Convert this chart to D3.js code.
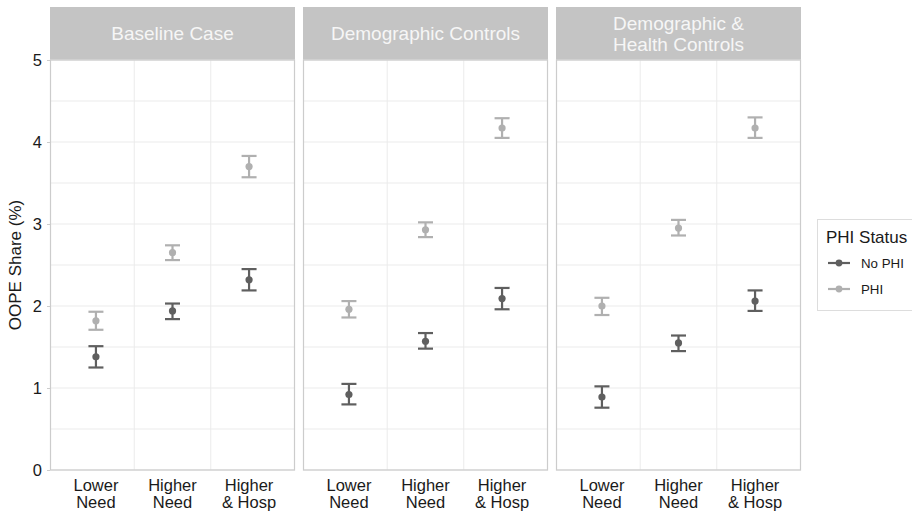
<!DOCTYPE html>
<html>
<head>
<meta charset="utf-8">
<script src="https://cdn.jsdelivr.net/npm/d3@7"></script>
<style>
  body { margin: 0; background: #fff; }
  svg { font-family: "Liberation Sans", Arial, Helvetica, sans-serif; }
</style>
</head>
<body>
<svg id="chart" width="912" height="512"></svg>
<script>
// Model specifications (facets), need categories and series
const models = ["Baseline Case", "Demographic Controls", "Demographic &\nHealth Controls"];
const categories = ["Lower\nNeed", "Higher\nNeed", "Higher\n& Hosp"];
const seriesNames = ["No PHI", "PHI"];
const seriesColors = ["#5f5f5f", "#b0b0b0"];
const yTicks = [0, 1, 2, 3, 4, 5];

// Estimates and 95% CI bounds, one row per model, one column per category
const noPhiEst = [[1.38, 1.94, 2.32], [0.92, 1.57, 2.09], [0.89, 1.55, 2.06]];
const noPhiLow = [[1.25, 1.84, 2.19], [0.80, 1.48, 1.96], [0.76, 1.45, 1.94]];
const noPhiHigh = [[1.51, 2.03, 2.45], [1.05, 1.67, 2.22], [1.02, 1.64, 2.19]];
const phiEst = [[1.82, 2.65, 3.70], [1.96, 2.93, 4.17], [2.00, 2.95, 4.17]];
const phiLow = [[1.71, 2.56, 3.57], [1.86, 2.84, 4.05], [1.89, 2.86, 4.05]];
const phiHigh = [[1.93, 2.74, 3.83], [2.06, 3.02, 4.29], [2.10, 3.05, 4.30]];

const rows = [];
models.forEach((m, mi) => {
  categories.forEach((c, ci) => {
    rows.push({model: m, cat: c, series: "No PHI", est: noPhiEst[mi][ci], lo: noPhiLow[mi][ci], hi: noPhiHigh[mi][ci]});
    rows.push({model: m, cat: c, series: "PHI", est: phiEst[mi][ci], lo: phiLow[mi][ci], hi: phiHigh[mi][ci]});
  });
});

const svg = d3.select("#chart");
const panelTop = 60, panelBottom = 470, stripTop = 7;

const fx = d3.scaleBand().domain(models).range([50, 801]).paddingInner(0.0316);
const x = d3.scalePoint().domain(categories).range([0, fx.bandwidth()]).padding(0.6);
const y = d3.scaleLinear().domain([0, 5]).range([panelBottom, panelTop]);
const color = d3.scaleOrdinal().domain(seriesNames).range(seriesColors);
const gridY = d3.range(0, 5.01, 0.5);

models.forEach(m => {
  const g = svg.append("g").attr("transform", `translate(${fx(m)},0)`);
  const w = fx.bandwidth();

  // Strip
  g.append("rect").attr("x", 0).attr("y", stripTop).attr("width", w).attr("height", panelTop - stripTop)
    .attr("fill", "#c4c4c4");
  const lines = m.split("\n");
  const stripMid = (stripTop + panelTop) / 2;
  lines.forEach((ln, i) => {
    g.append("text").attr("x", w / 2)
      .attr("y", stripMid + (i - (lines.length - 1) / 2) * 21)
      .attr("dy", "0.36em").attr("text-anchor", "middle")
      .attr("font-size", 19).attr("fill", "#f6f6f6").text(ln);
  });

  // Grid
  g.selectAll(".gy").data(gridY).join("line")
    .attr("x1", 0).attr("x2", w).attr("y1", d => y(d)).attr("y2", d => y(d))
    .attr("stroke", "#ebebeb").attr("stroke-width", 1);
  const step = x.step();
  g.selectAll(".gx").data(categories.slice(0, -1)).join("line")
    .attr("x1", d => x(d) + step / 2).attr("x2", d => x(d) + step / 2)
    .attr("y1", panelTop).attr("y2", panelBottom)
    .attr("stroke", "#ebebeb").attr("stroke-width", 1);

  // Panel border
  g.append("rect").attr("x", 0.5).attr("y", panelTop).attr("width", w - 1).attr("height", panelBottom - panelTop)
    .attr("fill", "none").attr("stroke", "#cccccc").attr("stroke-width", 1.2);

  // Error bars and points
  const data = rows.filter(r => r.model === m);
  const capHalf = 7.5;
  const eb = g.selectAll(".eb").data(data).join("g")
    .attr("stroke", d => color(d.series)).attr("stroke-width", 2.2);
  eb.append("line").attr("x1", d => x(d.cat)).attr("x2", d => x(d.cat))
    .attr("y1", d => y(d.lo)).attr("y2", d => y(d.hi));
  eb.append("line").attr("x1", d => x(d.cat) - capHalf).attr("x2", d => x(d.cat) + capHalf)
    .attr("y1", d => y(d.lo)).attr("y2", d => y(d.lo));
  eb.append("line").attr("x1", d => x(d.cat) - capHalf).attr("x2", d => x(d.cat) + capHalf)
    .attr("y1", d => y(d.hi)).attr("y2", d => y(d.hi));
  g.selectAll(".pt").data(data).join("circle")
    .attr("cx", d => x(d.cat)).attr("cy", d => y(d.est)).attr("r", 3.6)
    .attr("fill", d => color(d.series));

  // X labels
  categories.forEach(c => {
    c.split("\n").forEach((ln, i) => {
      g.append("text").attr("x", x(c)).attr("y", 491 + i * 17)
        .attr("text-anchor", "middle").attr("font-size", 16.5).attr("fill", "#1a1a1a").text(ln);
    });
  });
});

// Y axis on the first panel
const yAxis = svg.append("g").attr("transform", `translate(${fx(models[0])},0)`)
  .call(d3.axisLeft(y).tickValues(yTicks).tickFormat(d3.format("d")).tickSize(3).tickPadding(5));
yAxis.select(".domain").remove();
yAxis.selectAll(".tick line").attr("stroke", "#cccccc");
yAxis.selectAll(".tick text").attr("font-size", 16.5).attr("fill", "#1a1a1a")
  .attr("font-family", "Liberation Sans, Arial, sans-serif");

svg.append("text").attr("transform", `translate(15,${(panelTop + panelBottom) / 2}) rotate(-90)`)
  .attr("text-anchor", "middle").attr("dy", "0.35em").attr("font-size", 17).attr("fill", "#1a1a1a")
  .text("OOPE Share (%)");

// Legend
const lg = svg.append("g").attr("transform", "translate(817,219)");
lg.append("rect").attr("x", 0.5).attr("y", 0.5).attr("width", 100).attr("height", 91)
  .attr("fill", "#fff").attr("stroke", "#dddddd").attr("stroke-width", 1);
lg.append("text").attr("x", 9).attr("y", 24).attr("font-size", 17).attr("fill", "#1a1a1a").text("PHI Status");
seriesNames.forEach((s, i) => {
  const yy = 44 + i * 26;
  lg.append("line").attr("x1", 11).attr("x2", 33).attr("y1", yy).attr("y2", yy)
    .attr("stroke", color(s)).attr("stroke-width", 2.2);
  lg.append("circle").attr("cx", 22).attr("cy", yy).attr("r", 3.4).attr("fill", color(s));
  lg.append("text").attr("x", 44).attr("y", yy).attr("dy", "0.35em").attr("font-size", 13.3)
    .attr("fill", "#1a1a1a").text(s);
});
</script>
</body>
</html>
